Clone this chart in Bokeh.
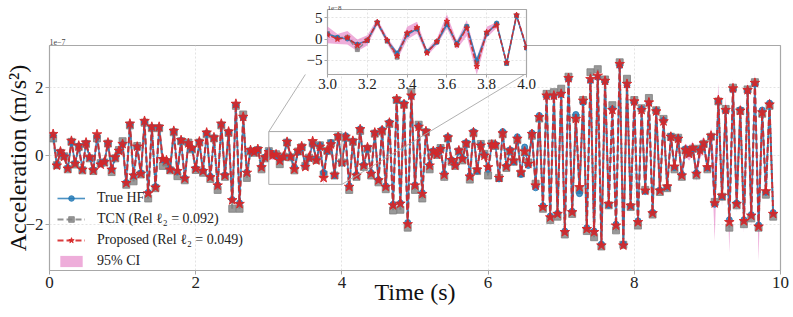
import numpy as np
from bokeh.plotting import figure
from bokeh.layouts import column
from bokeh.models import (ColumnDataSource, FixedTicker, Legend, LegendItem,
                          PrintfTickFormatter, Range1d)
from bokeh.embed import file_html
from bokeh.resources import INLINE

# ---------------- data (acceleration in units of 1e-7 m/s^2) ----------------
DT = 0.05
time = list(np.round(np.arange(1, 199) * DT, 2))   # 0.05 ... 9.90 s

true_hf = [
    0.60, -0.27, 0.10, -0.02, -0.36, 0.41, -0.22, 0.28, -0.40, 0.36, -0.06, -0.41, 0.55, -0.24, -0.18, 0.36, -0.40, -0.06, 0.13, 0.33,
    -0.78, 0.90, -0.58, 0.25, -0.50, 0.98, -1.07, 0.82, -0.90, 0.82, -0.12, -0.15, -0.40, 0.70, -0.46, 0.44, -0.65, 0.35, 0.21, -0.37,
    0.40, -0.44, 0.65, -0.60, 0.52, -0.85, 0.90, -0.56, 0.68, -1.28, 1.47, -1.38, 1.10, -0.48, 0.15, 0.11, 0.18, -0.32, -0.04, 0.12,
    0.04, 0.00, -0.12, -0.04, 0.40, -0.04, -0.33, 0.10, 0.24, -0.30, -0.08, 0.34, -0.10, 0.30, -0.50, 0.12, 0.38, -0.58, 0.56, -0.22,
    0.58, -0.88, 0.42, -0.55, 0.78, -0.27, 0.22, -0.50, 0.66, -0.70, 0.76, -0.88, 0.97, -1.42, 1.62, -1.38, 1.52, -1.95, 1.72, -0.85,
    0.86, -1.08, 0.70, -0.27, 0.14, 0.05, 0.20, -0.52, 0.55, -0.12, -0.27, 0.14, -0.08, 0.38, -0.58, 0.70, -0.45, 0.31, 0.02, -0.40,
    0.30, 0.33, -0.68, 0.70, -0.30, 0.17, -0.18, 0.55, -0.55, 0.25, -0.29, 0.66, -0.94, 1.17, -1.46, 1.72, -1.76, 1.72, -1.68, 1.78,
    -2.20, 2.22, -1.62, 1.20, -1.11, 1.55, -2.10, 2.18, -2.20, 2.28, -2.58, 2.15, -1.45, 1.36, -2.00, 2.62, -2.58, 2.05, -1.48, 1.55,
    -1.90, 1.36, -1.05, 1.52, -1.65, 1.31, -1.00, 1.03, -0.92, 0.57, -0.35, 0.50, -0.55, 0.20, 0.08, 0.20, -0.50, 0.18, 0.33, -0.36,
    0.55, -1.42, 1.58, -1.20, 1.30, -1.87, 1.92, -1.38, 1.34, -1.87, 1.88, -1.72, 2.08, -2.02, 1.33, -1.07, 1.53, -1.66,
]

tcn = [
    0.50, -0.28, 0.08, -0.02, -0.40, 0.40, -0.26, 0.25, -0.43, 0.34, -0.08, -0.45, 0.50, -0.22, -0.20, 0.35, -0.48, -0.08, 0.16, 0.42,
    -0.85, 0.88, -0.75, 0.28, -0.55, 0.96, -1.25, 0.80, -0.95, 0.80, -0.30, -0.20, -0.43, 0.68, -0.60, 0.42, -0.72, 0.38, 0.18, -0.42,
    0.38, -0.50, 0.62, -0.68, 0.50, -1.00, 0.88, -0.62, 0.66, -1.55, 1.45, -1.55, 1.20, -0.65, 0.12, 0.08, 0.16, -0.40, -0.08, 0.13,
    0.03, 0.04, -0.25, -0.03, 0.38, -0.05, -0.43, 0.12, 0.24, -0.30, -0.06, 0.36, -0.13, 0.30, -0.55, 0.14, 0.36, -0.58, 0.55, -0.20,
    0.52, -1.00, 0.40, -0.62, 0.72, -0.33, 0.20, -0.58, 0.64, -0.78, 0.70, -0.98, 0.92, -1.60, 1.62, -1.58, 1.48, -2.10, 1.85, -1.00,
    0.90, -1.25, 0.68, -0.40, 0.10, 0.02, 0.22, -0.62, 0.50, -0.18, -0.30, 0.12, -0.14, 0.34, -0.70, 0.65, -0.45, 0.34, 0.05, -0.58,
    0.35, 0.28, -0.65, 0.62, -0.36, 0.12, -0.18, 0.45, -0.52, 0.10, -0.20, 0.58, -0.82, 1.08, -1.55, 1.80, -1.88, 1.85, -1.78, 1.95,
    -2.30, 2.30, -1.70, 1.10, -1.00, 1.62, -2.20, 2.43, -2.38, 2.52, -2.65, 2.22, -1.45, 1.47, -2.18, 2.72, -2.60, 2.24, -1.50, 1.62,
    -2.04, 1.38, -1.00, 1.68, -1.72, 1.32, -1.06, 1.07, -0.95, 0.55, -0.40, 0.52, -0.62, 0.15, 0.08, 0.20, -0.58, 0.20, 0.34, -0.40,
    0.55, -1.35, 1.58, -1.20, 1.36, -2.10, 1.98, -1.45, 1.30, -2.00, 1.93, -1.83, 2.14, -2.10, 1.22, -1.14, 1.45, -1.78,
]

proposed = [
    0.63, -0.29, 0.12, -0.03, -0.38, 0.43, -0.24, 0.29, -0.41, 0.38, -0.05, -0.43, 0.62, -0.26, -0.19, 0.38, -0.41, -0.05, 0.14, 0.34,
    -0.80, 0.93, -0.58, 0.26, -0.53, 1.01, -1.10, 0.84, -0.93, 0.84, -0.10, -0.14, -0.41, 0.72, -0.45, 0.45, -0.67, 0.36, 0.22, -0.38,
    0.41, -0.45, 0.67, -0.63, 0.53, -0.87, 0.93, -0.58, 0.70, -1.30, 1.51, -1.41, 1.13, -0.50, 0.16, 0.10, 0.19, -0.34, -0.05, 0.10,
    0.00, 0.03, -0.15, -0.03, 0.40, -0.03, -0.40, 0.14, 0.27, -0.33, -0.06, 0.42, -0.14, 0.26, -0.65, 0.16, 0.33, -0.56, 0.57, -0.20,
    0.55, -0.91, 0.43, -0.58, 0.77, -0.29, 0.24, -0.53, 0.67, -0.72, 0.74, -0.91, 0.96, -1.45, 1.65, -1.40, 1.50, -2.00, 1.75, -0.87,
    0.84, -1.12, 0.71, -0.29, 0.13, 0.03, 0.19, -0.56, 0.53, -0.13, -0.29, 0.15, -0.10, 0.36, -0.61, 0.68, -0.41, 0.29, 0.00, -0.34,
    0.32, 0.32, -0.65, 0.65, -0.32, 0.15, -0.15, 0.49, -0.49, 0.12, -0.24, 0.63, -0.87, 1.12, -1.50, 1.75, -1.80, 1.75, -1.70, 1.80,
    -2.23, 2.26, -1.65, 1.07, -0.92, 1.60, -2.14, 2.23, -2.23, 2.33, -2.62, 2.18, -1.41, 1.33, -2.04, 2.67, -2.62, 2.09, -1.46, 1.58,
    -1.94, 1.33, -1.02, 1.55, -1.68, 1.29, -1.02, 1.00, -0.90, 0.55, -0.32, 0.49, -0.58, 0.17, 0.05, 0.22, -0.53, 0.15, 0.36, -0.34,
    0.58, -1.39, 1.62, -1.17, 1.33, -1.94, 1.96, -1.41, 1.31, -1.91, 1.91, -1.75, 2.12, -2.07, 1.26, -1.04, 1.49, -1.70,
]

ci_half = [
    0.10, 0.05, 0.04, 0.04, 0.05, 0.06, 0.04, 0.05, 0.05, 0.05, 0.04, 0.05, 0.12, 0.05, 0.05, 0.05, 0.05, 0.04, 0.04, 0.05,
    0.06, 0.08, 0.06, 0.05, 0.05, 0.08, 0.06, 0.06, 0.06, 0.06, 0.05, 0.05, 0.05, 0.06, 0.05, 0.05, 0.06, 0.05, 0.05, 0.05,
    0.05, 0.05, 0.06, 0.06, 0.05, 0.08, 0.06, 0.05, 0.06, 0.08, 0.10, 0.08, 0.06, 0.05, 0.04, 0.04, 0.05, 0.05, 0.05, 0.20,
    0.12, 0.16, 0.14, 0.12, 0.08, 0.08, 0.10, 0.15, 0.14, 0.08, 0.08, 0.17, 0.10, 0.19, 0.20, 0.13, 0.07, 0.05, 0.05, 0.08,
    0.06, 0.08, 0.06, 0.06, 0.06, 0.05, 0.05, 0.06, 0.06, 0.06, 0.06, 0.07, 0.07, 0.08, 0.08, 0.08, 0.08, 0.08, 0.08, 0.06,
    0.06, 0.06, 0.05, 0.05, 0.05, 0.05, 0.05, 0.22, 0.06, 0.05, 0.05, 0.05, 0.05, 0.06, 0.06, 0.14, 0.06, 0.05, 0.05, 0.06,
    0.12, 0.10, 0.06, 0.08, 0.05, 0.05, 0.06, 0.10, 0.06, 0.05, 0.05, 0.05, 0.06, 0.06, 0.06, 0.06, 0.06, 0.06, 0.06, 0.06,
    0.06, 0.06, 0.06, 0.06, 0.06, 0.06, 0.06, 0.06, 0.06, 0.06, 0.06, 0.06, 0.06, 0.06, 0.06, 0.06, 0.06, 0.06, 0.06, 0.06,
    0.06, 0.06, 0.06, 0.06, 0.06, 0.06, 0.06, 0.07, 0.08, 0.12, 0.15, 0.15, 0.15, 0.18, 0.20, 0.20, 0.22, 0.25, 0.20, 0.18,
    0.25, 1.10, 0.50, 0.30, 0.40, 0.90, 0.30, 0.25, 0.30, 0.35, 0.30, 0.30, 0.30, 1.00, 0.20, 0.20, 0.25, 0.15,
]

labels = ["True HF", "TCN (Rel \u2113\u2082 = 0.092)", "Proposed (Rel \u2113\u2082 = 0.049)", "95% CI"]
x_ticks = [0, 2, 4, 6, 8, 10]
y_ticks = [-2, 0, 2]
inset_x_ticks = [3.0, 3.2, 3.4, 3.6, 3.8, 4.0]
inset_y_ticks = [-5, 0, 5]

# zoom window (inset view), y in units of 1e-8
INSET_T = (3.0, 4.0)
INSET_Y = (-8.4, 7.0)

# ---------------- styling / layout ----------------
FONT = "Liberation Serif"
C_TRUE, C_TCN, C_PROP, C_CI = "#1f77b4", "#7f7f7f", "#d62728", "#e377c2"
EDGE = "#a8a8a8"

W, H = 793, 317
BL, BR, BT, BB = 49, 10, 45, 47
X_RANGE = (0.0, 10.0)
Y_RANGE = (-3.35, 3.21)

lower = [p - w for p, w in zip(proposed, ci_half)]
upper = [p + w for p, w in zip(proposed, ci_half)]
src = ColumnDataSource(dict(t=time, true=true_hf, tcn=tcn, prop=proposed, lo=lower, hi=upper))


def style_axes(fig, tick_size):
    fig.outline_line_color = EDGE
    fig.outline_line_width = 1.2
    for ax in (fig.xaxis, fig.yaxis):
        ax.axis_line_color = None
        ax.major_tick_line_color = EDGE
        ax.major_tick_out = 4
        ax.major_tick_in = 0
        ax.minor_tick_line_color = None
        ax.major_label_text_font = FONT
        ax.major_label_text_font_size = tick_size
        ax.major_label_text_color = "#222222"
        ax.major_label_standoff = 2
    fig.grid.grid_line_color = "#dcdcdc"
    fig.grid.grid_line_dash = "2 2"
    fig.grid.grid_line_width = 0.8


main = figure(width=W, height=H, x_range=Range1d(*X_RANGE), y_range=Range1d(*Y_RANGE),
              output_backend="svg", toolbar_location=None,
              min_border_left=BL, min_border_right=BR, min_border_top=BT, min_border_bottom=BB)
main.background_fill_color = "white"
main.border_fill_color = "white"
style_axes(main, "17px")
main.xaxis.ticker = FixedTicker(ticks=x_ticks)
main.yaxis.ticker = FixedTicker(ticks=y_ticks)
main.yaxis.major_label_overrides = {-2: "\u22122", 0: "0", 2: "2"}
main.xaxis.axis_label = "Time (s)"
main.yaxis.axis_label = "Acceleration (m/s\u00b2)"
for ax, st, fs in ((main.xaxis, -12, "24px"), (main.yaxis, -9, "24px")):
    ax.axis_label_text_font = FONT
    ax.axis_label_text_font_size = fs
    ax.axis_label_text_font_style = "normal"
    ax.axis_label_text_color = "#111111"
    ax.axis_label_standoff = st

main.title.text = "1e\u22127"
main.title.text_font = FONT
main.title.text_font_size = "8px"
main.title.text_font_style = "normal"
main.title.text_color = "#444444"
main.title.align = "left"
main.title.standoff = 1

ci_r = main.varea(x="t", y1="lo", y2="hi", source=src, fill_color=C_CI, fill_alpha=0.6)
tcn_l = main.line("t", "tcn", source=src, line_color=C_TCN, line_alpha=0.85, line_width=2, line_dash="6 3")
tcn_m = main.scatter("t", "tcn", source=src, marker="square", size=7, fill_color=C_TCN,
                     line_color=C_TCN, fill_alpha=0.8, line_alpha=0.8)
true_l = main.line("t", "true", source=src, line_color=C_TRUE, line_alpha=0.8, line_width=1.6)
true_m = main.scatter("t", "true", source=src, marker="circle", size=6, fill_color=C_TRUE,
                      line_color=C_TRUE, fill_alpha=0.8, line_alpha=0.8)
prop_l = main.line("t", "prop", source=src, line_color=C_PROP, line_alpha=0.9, line_width=2, line_dash="6 3")
prop_m = main.scatter("t", "prop", source=src, marker="star", size=10, fill_color=C_PROP,
                      line_color=C_PROP, fill_alpha=0.9, line_alpha=0.9)

# zoom-window rectangle (inset view range, 1e-8 -> 1e-7)
main.quad(left=[INSET_T[0]], right=[INSET_T[1]], bottom=[INSET_Y[0] / 10], top=[INSET_Y[1] / 10],
          fill_alpha=0, line_color=EDGE, line_width=1)

# inset placement expressed in main-data coordinates of its frame's bottom edge
INSET_BOX = dict(x0=3.50, x1=6.50, y_bottom=2.365)
main.segment(x0=[INSET_T[0], INSET_T[1]], y0=[INSET_Y[1] / 10, INSET_Y[0] / 10],
             x1=[INSET_BOX["x0"], INSET_BOX["x1"]], y1=[INSET_BOX["y_bottom"]] * 2,
             line_color=EDGE, line_width=0.9)

legend = Legend(items=[
    LegendItem(label=labels[0], renderers=[true_l, true_m]),
    LegendItem(label=labels[1], renderers=[tcn_l, tcn_m]),
    LegendItem(label=labels[2], renderers=[prop_l, prop_m]),
    LegendItem(label=labels[3], renderers=[ci_r]),
], location=(7, 0))
legend.label_text_font = FONT
legend.label_text_font_size = "14px"
legend.label_text_color = "#222222"
legend.glyph_width = 28
legend.glyph_height = 14
legend.label_height = 14
legend.spacing = 5
legend.padding = 1
legend.margin = 0
legend.label_standoff = 12
legend.background_fill_alpha = 0
legend.border_line_alpha = 0
main.add_layout(legend)

# ---------------- inset ----------------
px_per_t = (W - BL - BR) / (X_RANGE[1] - X_RANGE[0])
px_per_y = (H - BT - BB) / (Y_RANGE[1] - Y_RANGE[0])
IL, IR, IT, IB = 28, 13, 9, 22
frame_left = BL + (INSET_BOX["x0"] - X_RANGE[0]) * px_per_t
frame_right = BL + (INSET_BOX["x1"] - X_RANGE[0]) * px_per_t
frame_bottom = BT + (Y_RANGE[1] - INSET_BOX["y_bottom"]) * px_per_y
frame_top = 9.0
iw = int(round(frame_right - frame_left)) + IL + IR
ih = int(round(frame_bottom - frame_top)) + IT + IB
fig_left = int(round(frame_left)) - IL
fig_top = int(round(frame_top)) - IT

src_in = ColumnDataSource(dict(t=time,
                               true=[v * 10 for v in true_hf], tcn=[v * 10 for v in tcn],
                               prop=[v * 10 for v in proposed],
                               lo=[v * 10 for v in lower], hi=[v * 10 for v in upper]))
inset = figure(width=iw, height=ih, x_range=Range1d(*INSET_T), y_range=Range1d(*INSET_Y),
               output_backend="svg", toolbar_location=None,
               min_border_left=IL, min_border_right=IR, min_border_top=IT, min_border_bottom=IB)
inset.background_fill_color = "white"
inset.border_fill_alpha = 0
style_axes(inset, "15px")
inset.xaxis.major_tick_out = 3
inset.yaxis.major_tick_out = 3
inset.xaxis.major_label_standoff = 1
inset.xaxis.ticker = FixedTicker(ticks=inset_x_ticks)
inset.xaxis.formatter = PrintfTickFormatter(format="%.1f")
inset.yaxis.ticker = FixedTicker(ticks=inset_y_ticks)
inset.yaxis.major_label_overrides = {-5: "\u22125", 0: "0", 5: "5"}
inset.title.text = "1e\u22128"
inset.title.text_font = FONT
inset.title.text_font_size = "7px"
inset.title.text_font_style = "normal"
inset.title.text_color = "#444444"
inset.title.align = "left"
inset.title.standoff = 0

inset.varea(x="t", y1="lo", y2="hi", source=src_in, fill_color=C_CI, fill_alpha=0.6)
inset.line("t", "tcn", source=src_in, line_color=C_TCN, line_alpha=0.85, line_width=1.5, line_dash="5 2")
inset.scatter("t", "tcn", source=src_in, marker="square", size=4, fill_color=C_TCN, line_color=C_TCN, alpha=0.8)
inset.line("t", "true", source=src_in, line_color=C_TRUE, line_alpha=0.8, line_width=1.6)
inset.scatter("t", "true", source=src_in, marker="circle", size=4, fill_color=C_TRUE, line_color=C_TRUE, alpha=0.8)
inset.line("t", "prop", source=src_in, line_color=C_PROP, line_alpha=0.9, line_width=1.5, line_dash="5 2")
inset.scatter("t", "prop", source=src_in, marker="star", size=6, fill_color=C_PROP, line_color=C_PROP, alpha=0.9)

# overlay the inset on the main figure (column child with negative top margin)
inset.margin = (fig_top - H, 0, 0, fig_left)

layout = column(main, inset)
open("out.html", "w").write(file_html(layout, INLINE))
